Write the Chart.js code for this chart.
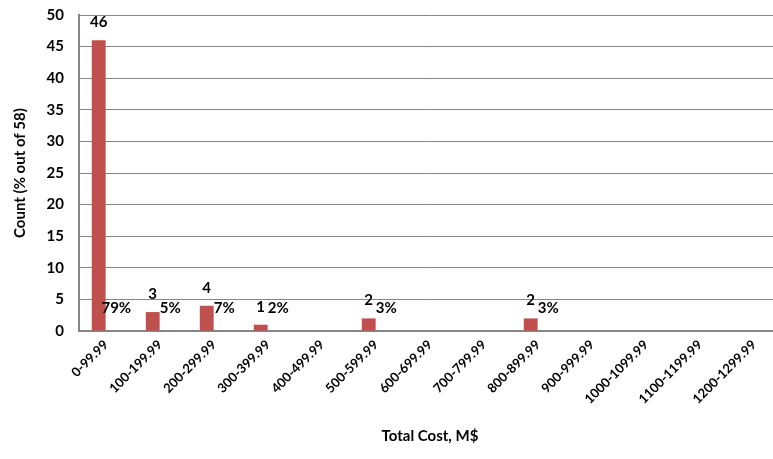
<!DOCTYPE html>
<html>
<head>
<meta charset="utf-8">
<script src="https://cdn.jsdelivr.net/npm/chart.js@4"></script>
<style>
  body { margin: 0; background: #fff; overflow: hidden; }
  #wrap { position: relative; top: -9px; width: 781px; height: 468px; }
</style>
</head>
<body>
<div id="wrap"><canvas id="myChart"></canvas></div>
<script>
const categorias = ['0-99.99', '100-199.99', '200-299.99', '300-399.99', '400-499.99', '500-599.99',
  '600-699.99', '700-799.99', '800-899.99', '900-999.99', '1000-1099.99', '1100-1199.99', '1200-1299.99'];
const contagem = [46, 3, 4, 1, 0, 2, 0, 0, 2, 0, 0, 0, 0];
const percentual = [0.79, 0.05, 0.07, 0.02, 0, 0.03, 0, 0, 0.03, 0, 0, 0, 0];
const ticksY = [0, 5, 10, 15, 20, 25, 30, 35, 40, 45, 50];

const fonte = 'Lato, "Open Sans", sans-serif';

// rotulos: contagem em cima da barra, percentual ao lado
const rotulos = {
  id: 'rotulos',
  afterDatasetsDraw(chart) {
    const ctx = chart.ctx;
    const y = chart.scales.y;
    ctx.save();
    ctx.fillStyle = '#000';
    ctx.font = 'bold 15px ' + fonte;
    ctx.textAlign = 'center';
    ctx.textBaseline = 'middle';
    const m0 = chart.getDatasetMeta(0);
    const m1 = chart.getDatasetMeta(1);
    for (let i = 0; i < contagem.length; i++) {
      if (contagem[i] == 0) continue;
      const b = m0.data[i];
      ctx.fillText(String(contagem[i]), b.x, b.y - 18);
      const p = m1.data[i];
      ctx.fillText(Math.round(percentual[i] * 100) + '%', p.x + 3, y.getPixelForValue(0) - 23);
    }
    ctx.restore();
  }
};

new Chart(document.getElementById('myChart'), {
  type: 'bar',
  data: {
    labels: categorias,
    datasets: [{
      label: 'Count',
      data: contagem,
      backgroundColor: '#C0504D',
      borderWidth: 0,
      barPercentage: 0.95,
      categoryPercentage: 0.54
    }, {
      label: 'Percent',
      data: percentual,
      backgroundColor: 'rgba(0,0,0,0)',
      borderWidth: 0,
      barPercentage: 0.95,
      categoryPercentage: 0.54
    }]
  },
  options: {
    responsive: true,
    maintainAspectRatio: false,
    animation: false,
    layout: { padding: { top: 0, right: 0, left: 7, bottom: 10 } },
    plugins: { legend: { display: false }, tooltip: { enabled: false } },
    scales: {
      x: {
        grid: { display: false, drawTicks: false },
        border: { color: '#868686', width: 2 },
        ticks: {
          color: '#000',
          font: { family: fonte, size: 13, weight: 'bold' },
          minRotation: 45, maxRotation: 45, autoSkip: false, padding: 6
        },
        title: {
          display: true, text: 'Total Cost, M$', color: '#000',
          font: { family: fonte, size: 15, weight: 'bold' }, padding: { top: 14 }
        }
      },
      y: {
        min: 0, max: 50,
        afterBuildTicks: (s) => { s.ticks = ticksY.map(v => ({ value: v })); },
        afterFit: (s) => { s.width = 72; },
        grid: { color: '#868686', lineWidth: 1, drawTicks: false },
        border: { color: '#868686', width: 2 },
        ticks: {
          color: '#000', padding: 15,
          font: { family: fonte, size: 15, weight: 'bold' }
        },
        title: {
          display: true, text: 'Count (% out of 58)', color: '#000',
          font: { family: fonte, size: 15, weight: 'bold' }, padding: { bottom: 4 }
        }
      }
    }
  },
  plugins: [rotulos]
});
</script>
</body>
</html>
